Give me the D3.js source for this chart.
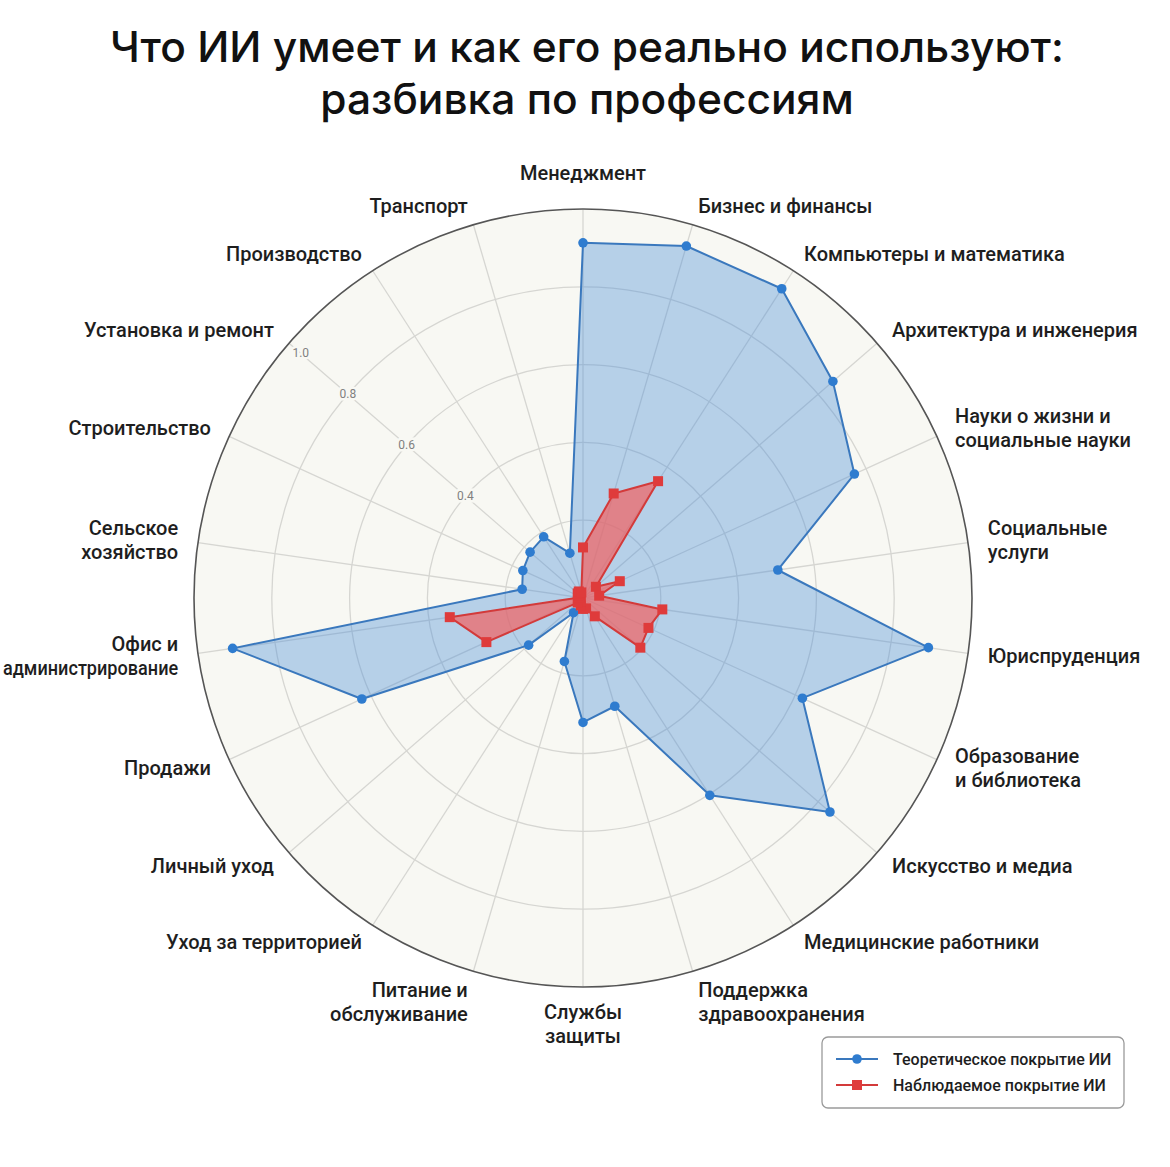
<!DOCTYPE html>
<html>
<head>
<meta charset="utf-8">
<script src="https://cdn.jsdelivr.net/npm/d3@7"></script>
<style>
  body { margin: 0; background: #ffffff; }
  svg { display: block; }
</style>
</head>
<body>
<script>
// categories, clockwise from the top
var categories = [
  "Менеджмент", "Бизнес и финансы", "Компьютеры и математика", "Архитектура и инженерия",
  "Науки о жизни и\nсоциальные науки", "Социальные\nуслуги", "Юриспруденция",
  "Образование\nи библиотека", "Искусство и медиа", "Медицинские работники",
  "Поддержка\nздравоохранения", "Службы\nзащиты", "Питание и\nобслуживание",
  "Уход за территорией", "Личный уход", "Продажи", "Офис и\nадминистрирование",
  "Сельское\nхозяйство", "Строительство", "Установка и ремонт", "Производство", "Транспорт"
]

var theoretical = [0.913, 0.943, 0.945, 0.85, 0.767, 0.506, 0.897, 0.62, 0.84, 0.603, 0.29,
  0.32, 0.17, 0.045, 0.185, 0.625, 0.91, 0.158, 0.17, 0.18, 0.187, 0.12]

var observed = [0.13, 0.28, 0.357, 0.044, 0.104, 0.042, 0.206, 0.185, 0.195, 0.056, 0.028,
  0.028, 0.02, 0.01, 0.018, 0.273, 0.346, 0.01, 0.014, 0.018, 0.02, 0.015]

var gridTicks = [0.2, 0.4, 0.6, 0.8, 1.0]
var tickLabels = [0.4, 0.6, 0.8, 1.0]

var seriesNames = ["Теоретическое покрытие ИИ", "Наблюдаемое покрытие ИИ"]

function main() {
  var width = 1170, height = 1167
  var cx = 583, cy = 598, R = 389

  var svg = d3.select("body").append("svg")
    .attr("width", width)
    .attr("height", height)

  // title
  svg.append("text")
    .attr("x", 587).attr("y", 0)
    .attr("text-anchor", "middle")
    .attr("font-family", "Inter, 'Open Sans', sans-serif")
    .attr("font-weight", 500)
    .attr("font-size", 42.5)
    .attr("fill", "#111")
    .selectAll("tspan")
    .data(["Что ИИ умеет и как его реально используют:", "разбивка по профессиям"])
    .enter().append("tspan")
    .attr("x", 587)
    .attr("y", function(d, i) { return 62 + i * 52 })
    .text(function(d) { return d })

  var n = categories.length
  var angle = d3.scalePoint()
    .domain(categories)
    .range([0, 2 * Math.PI * (n - 1) / n])
  var r = d3.scaleLinear().domain([0, 1]).range([0, R])

  var g = svg.append("g").attr("transform", "translate(" + cx + "," + cy + ")")

  // background disc
  g.append("circle").attr("r", r(1)).attr("fill", "#f8f8f3")

  g.selectAll(".grid")
    .data(gridTicks.slice(0, -1))
    .enter().append("circle")
    .attr("r", function(d) { return r(d) })
    .attr("fill", "none")
    .attr("stroke", "#d6d6d2")
    .attr("stroke-width", 1.3)

  g.selectAll(".spoke")
    .data(categories)
    .enter().append("line")
    .attr("x1", 0).attr("y1", 0)
    .attr("x2", function(d) { return d3.pointRadial(angle(d), r(1))[0] })
    .attr("y2", function(d) { return d3.pointRadial(angle(d), r(1))[1] })
    .attr("stroke", "#d6d6d2")
    .attr("stroke-width", 1.3)

  // radial tick labels along the "Установка и ремонт" spoke
  var tickAngle = angle("Установка и ремонт")
  g.selectAll(".tick")
    .data(tickLabels)
    .enter().append("text")
    .attr("x", function(d) { return d3.pointRadial(tickAngle, r(Math.min(d, 0.96)))[0] })
    .attr("y", function(d) { return d3.pointRadial(tickAngle, r(Math.min(d, 0.96)))[1] })
    .attr("text-anchor", "middle")
    .attr("dominant-baseline", "central")
    .attr("font-family", "Roboto, sans-serif")
    .attr("font-size", 12)
    .attr("fill", "#808080")
    .attr("stroke", "#f8f8f3")
    .attr("stroke-width", 5)
    .attr("paint-order", "stroke")
    .text(function(d) { return d.toFixed(1) })

  g.append("circle").attr("r", r(1))
    .attr("fill", "none").attr("stroke", "#555").attr("stroke-width", 1.6)

  var line = d3.lineRadial()
    .angle(function(d, i) { return angle(categories[i]) })
    .radius(function(d) { return r(d) })
    .curve(d3.curveLinearClosed)

  // theoretical
  g.append("path")
    .attr("d", line(theoretical))
    .attr("fill", "#4a8fd8").attr("fill-opacity", 0.38)
    .attr("stroke", "#3a78bd").attr("stroke-width", 2)
    .attr("stroke-linejoin", "round")

  // observed
  g.append("path")
    .attr("d", line(observed))
    .attr("fill", "#f06464").attr("fill-opacity", 0.72)
    .attr("stroke", "#d33a3a").attr("stroke-width", 2)
    .attr("stroke-linejoin", "round")

  g.selectAll(".dot")
    .data(theoretical)
    .enter().append("circle")
    .attr("cx", function(d, i) { return d3.pointRadial(angle(categories[i]), r(d))[0] })
    .attr("cy", function(d, i) { return d3.pointRadial(angle(categories[i]), r(d))[1] })
    .attr("r", 4.8)
    .attr("fill", "#2f7ccf")

  g.selectAll(".sq")
    .data(observed)
    .enter().append("rect")
    .attr("x", function(d, i) { return d3.pointRadial(angle(categories[i]), r(d))[0] - 5 })
    .attr("y", function(d, i) { return d3.pointRadial(angle(categories[i]), r(d))[1] - 5 })
    .attr("width", 10).attr("height", 10)
    .attr("fill", "#df3b3b")

  // category labels
  var lineH = 24
  var labels = g.selectAll(".label")
    .data(categories)
    .enter().append("text")
    .attr("font-family", "Roboto, sans-serif")
    .attr("font-size", 20)
    .attr("font-weight", 500)
    .attr("fill", "#1e1e1e")
    .attr("text-anchor", function(d) {
      var s = Math.sin(angle(d))
      return s > 0.05 ? "start" : (s < -0.05 ? "end" : "middle")
    })

  labels.each(function(d) {
    var a = angle(d)
    var p = d3.pointRadial(a, r(1) + 20)
    var lines = d.split("\n")
    var c = Math.cos(a)
    var y0
    if (c > 0.99) y0 = p[1] - 9 - (lines.length - 1) * lineH
    else if (c < -0.99) y0 = p[1] + 12
    else if (c < -0.9) y0 = p[1] + 7
    else y0 = p[1] - (lines.length - 1) * lineH / 2 + 7
    var anchor = d3.select(this).attr("text-anchor")
    d3.select(this).selectAll("tspan")
      .data(lines)
      .enter().append("tspan")
      .attr("x", p[0])
      .attr("y", function(t, i) { return y0 + i * lineH })
      .text(function(t) { return t })
      .each(function() {
        // squeeze a line that would run past the page edge
        if (anchor != "end") return
        var room = cx + p[0] - 3
        if (this.getComputedTextLength() > room)
          d3.select(this).attr("textLength", room).attr("lengthAdjust", "spacingAndGlyphs")
      })
  })

  // legend
  var legend = svg.append("g").attr("transform", "translate(822,1037)")
  legend.append("rect")
    .attr("width", 302).attr("height", 71).attr("rx", 6)
    .attr("fill", "#fff").attr("stroke", "#9a9a9a").attr("stroke-width", 1.3)

  var colors = ["#3a78bd", "#d33a3a"]
  var items = legend.selectAll(".item")
    .data(seriesNames)
    .enter().append("g")
    .attr("transform", function(d, i) { return "translate(0," + (22 + i * 26) + ")" })

  items.append("line")
    .attr("x1", 14).attr("x2", 56)
    .attr("stroke", function(d, i) { return colors[i] })
    .attr("stroke-width", 1.8)
  items.filter(function(d, i) { return i == 0 }).append("circle")
    .attr("cx", 35).attr("r", 4.8).attr("fill", "#2f7ccf")
  items.filter(function(d, i) { return i == 1 }).append("rect")
    .attr("x", 30).attr("y", -5).attr("width", 10).attr("height", 10).attr("fill", "#df3b3b")
  items.append("text")
    .attr("x", 71).attr("dy", "0.35em")
    .attr("font-family", "Roboto, sans-serif")
    .attr("font-size", 16)
    .attr("font-weight", 500)
    .attr("fill", "#1e1e1e")
    .text(function(d) { return d })
}

main()
</script>
</body>
</html>
